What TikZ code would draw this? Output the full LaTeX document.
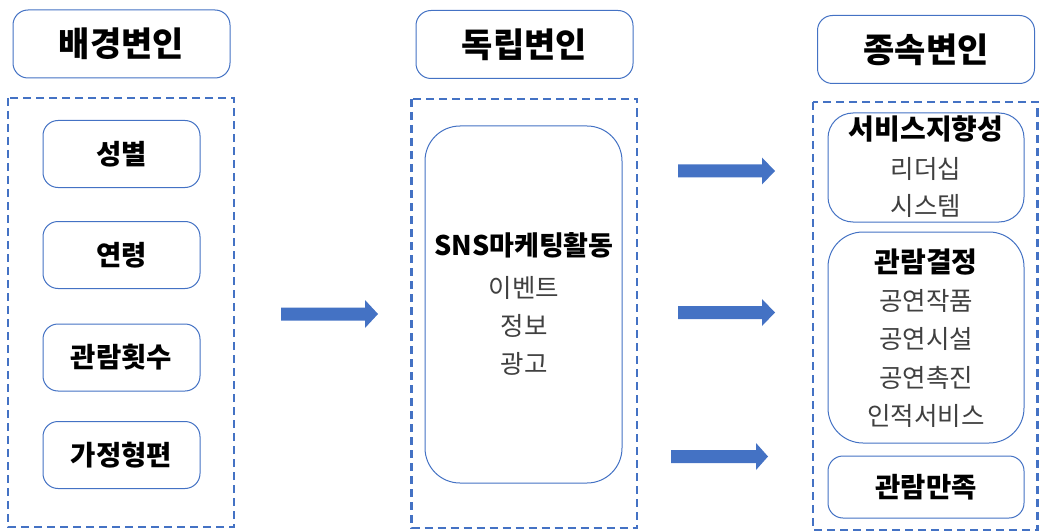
\documentclass[tikz,border=0pt]{standalone}
\usepackage{fontspec}
\newfontfamily\kr{Noto Sans CJK KR}
\definecolor{bl}{HTML}{4472C4}
\definecolor{gr}{HTML}{404040}
\tikzset{
  hdr/.style={draw=bl, line width=1pt, rounded corners=15pt, fill=white,
    minimum width=217pt, minimum height=68pt, inner sep=0pt,
    font=\kr\bfseries\fontsize{34}{34}\selectfont},
  itembox/.style={draw=bl, line width=1pt, rounded corners=15pt, fill=white,
    minimum width=157pt, minimum height=67pt, inner sep=0pt,
    font=\kr\bfseries\fontsize{27.5}{27.5}\selectfont},
  groupbox/.style={draw=bl, line width=1pt, fill=white, inner sep=0pt},
  dbox/.style={draw=bl, line width=2.2pt, dash pattern=on 8pt off 5pt},
  boldtxt/.style={inner sep=0pt, font=\kr\bfseries\fontsize{28}{28}\selectfont},
  graytxt/.style={inner sep=0pt, text=gr, font=\kr\fontsize{25.5}{25.5}\selectfont},
  blockarrow/.style={fill=bl, draw=none}
}
\begin{document}
\begin{tikzpicture}[x=1pt,y=-1pt]
\useasboundingbox (0,0) rectangle (1039,532);

% headers
\node[hdr] (h1) at (121.5,44) {배경변인};
\node[hdr] (h2) at (524.5,44.5) {독립변인};
\node[hdr] (h3) at (926,49.5) {종속변인};

% dashed frames
\draw[dbox] (8,98) rectangle (234,527);
\draw[dbox] (411.5,99) rectangle (637,528);
\draw[dbox] (813,102) rectangle (1037.5,530);

% left items
\node[itembox] (b1) at (121.5,154) {성별};
\node[itembox] (b2) at (121.5,255) {연령};
\node[itembox] (b3) at (121.5,357.5) {관람횟수};
\node[itembox] (b4) at (121.5,455) {가정형편};

% middle
\node[groupbox, rounded corners=35pt, minimum width=197pt, minimum height=357pt] (m) at (523.5,304.5) {};
\node[boldtxt, font=\kr\bfseries\fontsize{27}{27}\selectfont] (m0) at (524,245) {SNS마케팅활동};
\node[graytxt] (m1) at (524,288) {이벤트};
\node[graytxt] (m2) at (524,326) {정보};
\node[graytxt] (m3) at (524,364) {광고};

% right
\node[groupbox, rounded corners=25pt, minimum width=196pt, minimum height=109pt] (r1) at (926,167.5) {};
\node[boldtxt] (r1t) at (926,129) {서비스지향성};
\node[graytxt] (r1a) at (926,169) {리더십};
\node[graytxt] (r1b) at (926,206) {시스템};

\node[groupbox, rounded corners=35pt, minimum width=196pt, minimum height=211pt] (r2) at (926,337.5) {};
\node[boldtxt] (r2t) at (926,262) {관람결정};
\node[graytxt] (r2a) at (926,301) {공연작품};
\node[graytxt] (r2b) at (926,339) {공연시설};
\node[graytxt] (r2c) at (926,378) {공연촉진};
\node[graytxt] (r2d) at (926,416) {인적서비스};

\node[itembox, minimum width=196pt, minimum height=62pt] (r3) at (926,487) {관람만족};

% block arrows
\fill[blockarrow] (281,307.5) -- (365,307.5) -- (365,300) -- (378,314) -- (365,328) -- (365,320.5) -- (281,320.5) -- cycle;
\fill[blockarrow] (678,164.5) -- (762,164.5) -- (762,157.5) -- (775,171) -- (762,184.5) -- (762,177.5) -- (678,177.5) -- cycle;
\fill[blockarrow] (678,306) -- (762,306) -- (762,299) -- (775,312.5) -- (762,326) -- (762,319) -- (678,319) -- cycle;
\fill[blockarrow] (671,450) -- (756,450) -- (756,443) -- (768,456.5) -- (756,470) -- (756,463) -- (671,463) -- cycle;
\end{tikzpicture}
\end{document}
